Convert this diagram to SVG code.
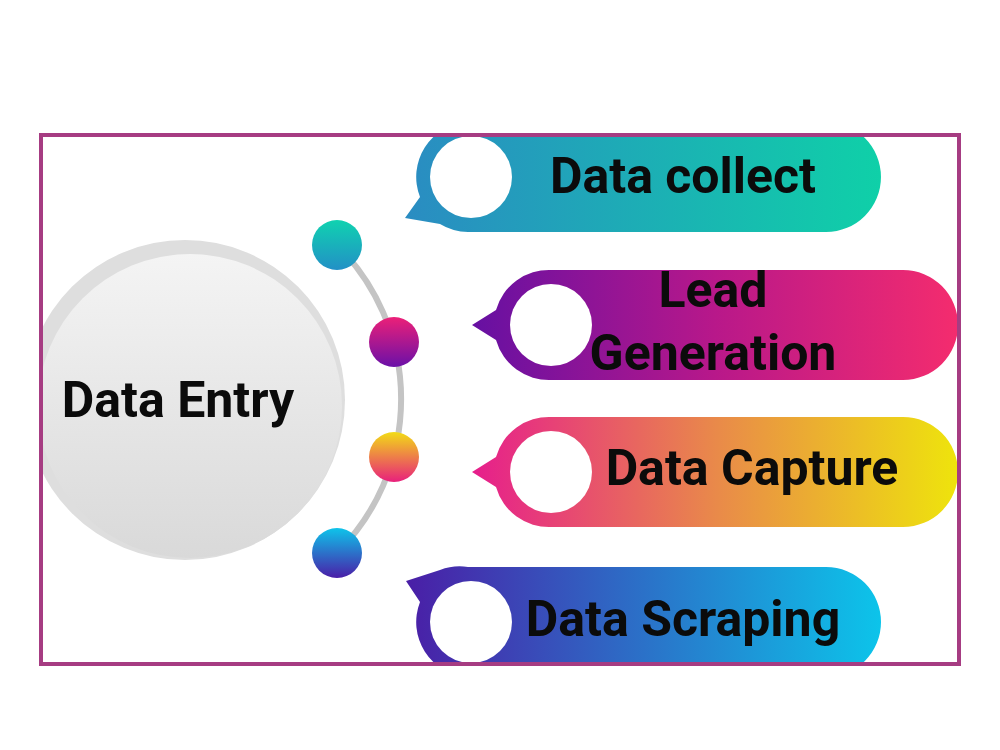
<svg xmlns="http://www.w3.org/2000/svg" width="1000" height="750" viewBox="0 0 1000 750">
  <defs>
    <style>
      .lbl { font-family: Roboto, "Liberation Sans", sans-serif; font-weight: 700; fill: #0b0b0b; text-anchor: middle; font-size: 50px; }
      .hole { fill: #ffffff; }
      .arc { fill: none; stroke: #c4c4c4; stroke-width: 6; }
      .frame { fill: none; stroke: #a63c82; stroke-width: 4; }
    </style>
    <clipPath id="inner"><rect x="41" y="135" width="918" height="529"/></clipPath>
    <linearGradient id="g1" x1="0" y1="0" x2="1" y2="0"><stop offset="0" stop-color="#2a8cc2"/><stop offset="1" stop-color="#0fd0a8"/></linearGradient>
    <linearGradient id="g2" x1="0" y1="0" x2="1" y2="0"><stop offset="0" stop-color="#6610a2"/><stop offset="0.5" stop-color="#b8188a"/><stop offset="1" stop-color="#f42c6e"/></linearGradient>
    <linearGradient id="g3" x1="0" y1="0" x2="1" y2="0"><stop offset="0" stop-color="#e61e8c"/><stop offset="0.5" stop-color="#e9894a"/><stop offset="1" stop-color="#eee40c"/></linearGradient>
    <linearGradient id="g4" x1="0" y1="0" x2="1" y2="0"><stop offset="0" stop-color="#4a1ea6"/><stop offset="1" stop-color="#0cc4ea"/></linearGradient>
    <linearGradient id="d1" x1="0" y1="0" x2="0" y2="1"><stop offset="0" stop-color="#10d2b0"/><stop offset="1" stop-color="#2290c6"/></linearGradient>
    <linearGradient id="d2" x1="0" y1="0" x2="0" y2="1"><stop offset="0" stop-color="#ec2078"/><stop offset="1" stop-color="#6a10a8"/></linearGradient>
    <linearGradient id="d3" x1="0" y1="0" x2="0" y2="1"><stop offset="0" stop-color="#f2dc16"/><stop offset="1" stop-color="#e8207c"/></linearGradient>
    <linearGradient id="d4" x1="0" y1="0" x2="0" y2="1"><stop offset="0" stop-color="#0ec4ea"/><stop offset="1" stop-color="#4a1ea8"/></linearGradient>
    <linearGradient id="big" x1="0" y1="0" x2="0" y2="1"><stop offset="0" stop-color="#f4f4f4"/><stop offset="1" stop-color="#d9d9d9"/></linearGradient>
  </defs>
  <rect x="0" y="0" width="1000" height="750" fill="#ffffff"/>

  <g id="connectors">
    <path class="arc" d="M337,245 A217,217 0 0 1 337,553"/>
  </g>

  <g id="data-entry" clip-path="url(#inner)">
    <circle cx="185" cy="400" r="160" fill="#dedede"/>
    <circle cx="190" cy="406" r="152" fill="url(#big)"/>
    <text class="lbl" x="178" y="417">Data Entry</text>
  </g>

  <g id="dots">
    <circle cx="337" cy="245" r="25" fill="url(#d1)"/>
    <circle cx="394" cy="342" r="25" fill="url(#d2)"/>
    <circle cx="394" cy="457" r="25" fill="url(#d3)"/>
    <circle cx="337" cy="553" r="25" fill="url(#d4)"/>
  </g>

  <g id="data-collect" clip-path="url(#inner)">
    <path fill="url(#g1)" d="M405,218 L420,197 A55,55 0 0 1 468,122 L826,122 A55,55 0 0 1 826,232 L468,232 A55,55 0 0 1 440,224 Z"/>
    <circle class="hole" cx="471" cy="177" r="41"/>
    <text class="lbl" x="683" y="193">Data collect</text>
  </g>

  <g id="lead-generation" clip-path="url(#inner)">
    <path fill="url(#g2)" d="M472,325 L496,310 A55,55 0 0 1 551,270 L903,270 A55,55 0 0 1 903,380 L551,380 A55,55 0 0 1 496,340 Z"/>
    <circle class="hole" cx="551" cy="325" r="41"/>
    <text class="lbl" x="713" y="307">Lead</text>
    <text class="lbl" x="713" y="370">Generation</text>
  </g>

  <g id="data-capture" clip-path="url(#inner)">
    <path fill="url(#g3)" d="M472,472 L496,457 A55,55 0 0 1 551,417 L903,417 A55,55 0 0 1 903,527 L551,527 A55,55 0 0 1 496,487 Z"/>
    <circle class="hole" cx="551" cy="472" r="41"/>
    <text class="lbl" x="752" y="485">Data Capture</text>
  </g>

  <g id="data-scraping" clip-path="url(#inner)">
    <path fill="url(#g4)" d="M406,581 L440,570 A55,55 0 0 1 468,567 L826,567 A55,55 0 0 1 826,677 L468,677 A55,55 0 0 1 420,602 Z"/>
    <circle class="hole" cx="471" cy="622" r="41"/>
    <text class="lbl" x="683" y="636">Data Scraping</text>
  </g>

  <rect class="frame" x="41" y="135" width="918" height="529"/>
</svg>
